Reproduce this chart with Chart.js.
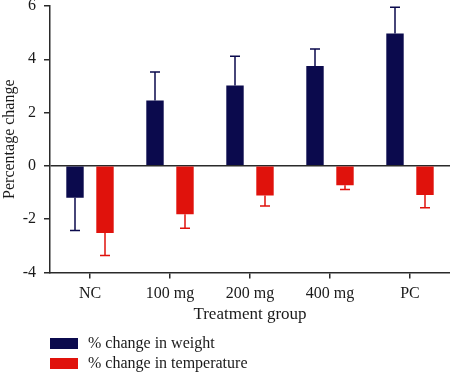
<!DOCTYPE html>
<html>
<head>
<meta charset="utf-8">
<script src="https://cdn.jsdelivr.net/npm/chart.js@4.4.0/dist/chart.umd.min.js"></script>
<style>
  html, body { margin: 0; padding: 0; background: #fff; }
  #wrap { position: relative; width: 450px; height: 373px; }
  #legend { position: absolute; left: 50px; top: 333px; font: 16px "Liberation Serif", serif; color: #1a1a1a; }
  .legends_li { display: flex; align-items: center; height: 20px; }
  .legend_box { display: inline-block; width: 28px; height: 11px; margin-right: 10px; }
</style>
</head>
<body>
<div id="wrap">
  <canvas id="bar_chart" width="450" height="373"></canvas>
  <div id="legend"></div>
</div>
<script>
var groups = ["NC", "100 mg", "200 mg", "400 mg", "PC"];
var weightChange = [-1.2, 2.45, 3.02, 3.75, 4.97];
var weightErr = [1.23, 1.07, 1.09, 0.64, 0.98];
var tempChange = [-2.52, -1.82, -1.11, -0.73, -1.09];
var tempErr = [0.85, 0.52, 0.40, 0.16, 0.48];
var yTicks = [-4, -2, 0, 2, 4, 6];

var navy = "#0b0a4d", red = "#e0120c", axisCol = "#2a2a2a";
var serif = '"Liberation Serif", serif';

// error bars drawn away from zero, with a cap
var errorBarPlugin = {
    id: "errorBars",
    afterDatasetsDraw(chart) {
        var ctx = chart.ctx, y = chart.scales.y;
        chart.data.datasets.forEach(function (ds, i) {
            var meta = chart.getDatasetMeta(i);
            meta.data.forEach(function (bar, j) {
                var v = ds.data[j], e = ds.errors[j];
                var end = y.getPixelForValue(v + (v < 0 ? -e : e));
                ctx.save();
                ctx.strokeStyle = ds.errorColor;
                ctx.lineWidth = 1.5;
                ctx.beginPath();
                ctx.moveTo(bar.x, bar.y);
                ctx.lineTo(bar.x, end);
                ctx.moveTo(bar.x - 5, end);
                ctx.lineTo(bar.x + 5, end);
                ctx.stroke();
                ctx.restore();
            });
        });
    }
};

var myChart = new Chart(document.getElementById("bar_chart"), {
    type: "bar",
    data: {
        labels: groups,
        datasets: [
            { label: "% change in weight", data: weightChange, errors: weightErr, errorColor: navy, backgroundColor: navy, borderWidth: 0 },
            { label: "% change in temperature", data: tempChange, errors: tempErr, errorColor: red, backgroundColor: red, borderWidth: 0 }
        ]
    },
    options: {
        responsive: false,
        animation: false,
        categoryPercentage: 0.75,
        barPercentage: 0.58,
        layout: { padding: { top: 6, right: 0, bottom: 48, left: 0 } },
        scales: {
            x: {
                offset: true,
                afterFit: function (s) { s.paddingLeft = 0; s.paddingRight = 0; },
                grid: { offset: false, drawOnChartArea: false, tickLength: 6, tickColor: axisCol, lineWidth: 1.5 },
                border: { color: axisCol, width: 1.5 },
                ticks: { color: "#1a1a1a", font: { family: serif, size: 16 }, padding: 6 },
                title: { display: true, text: "Treatment group", color: "#1a1a1a", font: { family: serif, size: 17 }, padding: { top: -5, bottom: 0 } }
            },
            y: {
                min: -4,
                max: 6,
                afterBuildTicks: function (s) { s.ticks = yTicks.map(function (v) { return { value: v }; }); },
                afterFit: function (s) { s.width = 50; s.paddingTop = 0; s.paddingBottom = 0; },
                grid: {
                    color: function (c) { return c.tick && c.tick.value === 0 ? axisCol : "transparent"; },
                    tickColor: axisCol, tickLength: 6, lineWidth: 1.5
                },
                border: { color: axisCol, width: 1.5 },
                ticks: { color: "#1a1a1a", font: { family: serif, size: 16 }, padding: 8 },
                title: { display: true, text: "Percentage change", color: "#1a1a1a", font: { family: serif, size: 16 }, padding: { top: 0, bottom: 0 } }
            }
        },
        plugins: {
            legend: { display: false },
            tooltip: { enabled: false }
        }
    },
    plugins: [errorBarPlugin]
});

// html legend, stacked
var legendEl = document.getElementById("legend");
myChart.data.datasets.forEach(function (ds) {
    var li = document.createElement("div");
    li.className = "legends_li";
    var box = document.createElement("span");
    box.className = "legend_box";
    box.style.background = ds.backgroundColor;
    li.appendChild(box);
    li.appendChild(document.createTextNode(ds.label));
    legendEl.appendChild(li);
});
</script>
</body>
</html>
